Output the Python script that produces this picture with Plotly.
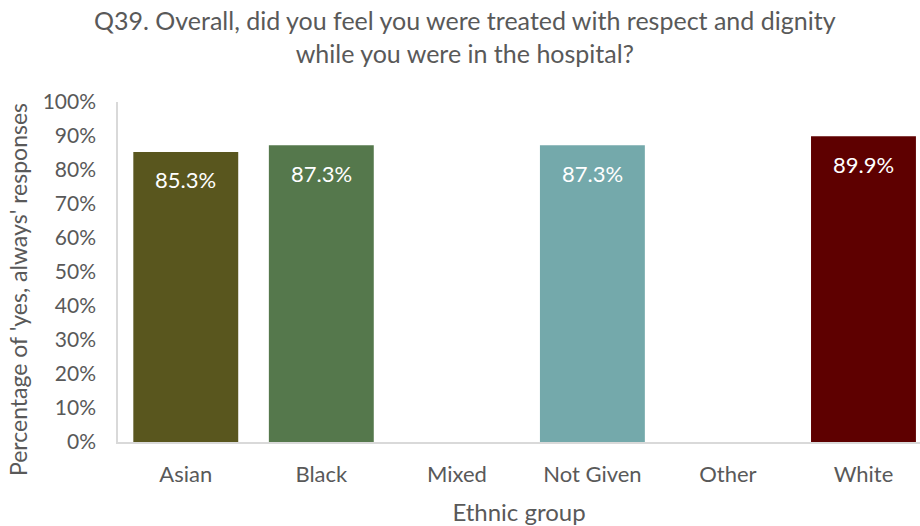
import plotly.graph_objects as go

# Survey results: share of 'yes, always' responses by ethnic group
groups = ["Asian", "Black", "Mixed", "Not Given", "Other", "White"]
values = [0.853, 0.873, None, 0.873, None, 0.899]
colors = ["#59561e", "#55784c", "#ffffff", "#74a9ab", "#ffffff", "#5e0000"]
y_ticks = [i / 10 for i in range(11)]

title_text = ("Q39. Overall, did you feel you were treated with respect and dignity"
              "<br>while you were in the hospital?")
y_title = "Percentage of 'yes, always' responses"
FONT = "Lato"
GREY = "#595959"

fig = go.Figure()
fig.add_trace(go.Bar(
    x=groups,
    y=values,
    marker=dict(color=colors, line=dict(width=0)),
    hoverinfo="x+y",
))

# Value labels sit just below each bar's top
for g, v in zip(groups, values):
    if v is None:
        continue
    fig.add_annotation(
        x=g, y=v, text=f"{v * 100:.1f}%", showarrow=False,
        yanchor="middle", yshift=-28,
        font=dict(family=FONT, size=22, color="#ffffff"),
    )

# Chart title, two centred lines above the plot area
fig.add_annotation(
    text=title_text, xref="paper", yref="paper",
    x=0.4327, y=1.194, xanchor="center", yanchor="middle",
    showarrow=False, align="center",
    font=dict(family=FONT, size=25, color=GREY),
)

# Vertical y-axis title
fig.add_annotation(
    text=y_title, xref="paper", yref="paper",
    x=-0.1247, y=0.45, xanchor="center", yanchor="middle",
    textangle=-90, showarrow=False,
    font=dict(family=FONT, size=23, color=GREY),
)

fig.update_layout(
    width=920, height=526,
    margin=dict(l=118, r=0, t=102, b=84),
    paper_bgcolor="#ffffff", plot_bgcolor="#ffffff",
    bargap=0.226,
    showlegend=False,
    font=dict(family=FONT, color=GREY),
    xaxis=dict(
        range=[-0.5, 5.417],
        showgrid=False, zeroline=False,
        showline=True, linecolor="#d9d9d9", linewidth=1.5,
        ticks="", ticklabelstandoff=12,
        tickfont=dict(family=FONT, size=22, color=GREY),
        title=dict(text="Ethnic group", standoff=18,
                   font=dict(family=FONT, size=24, color=GREY)),
    ),
    yaxis=dict(
        range=[0, 1],
        tickvals=y_ticks, tickformat=".0%",
        showgrid=False, zeroline=False,
        showline=True, linecolor="#d9d9d9", linewidth=1.5,
        ticks="", ticklabelstandoff=16,
        tickfont=dict(family=FONT, size=21, color=GREY),
    ),
)

fig.write_html("out.html")
